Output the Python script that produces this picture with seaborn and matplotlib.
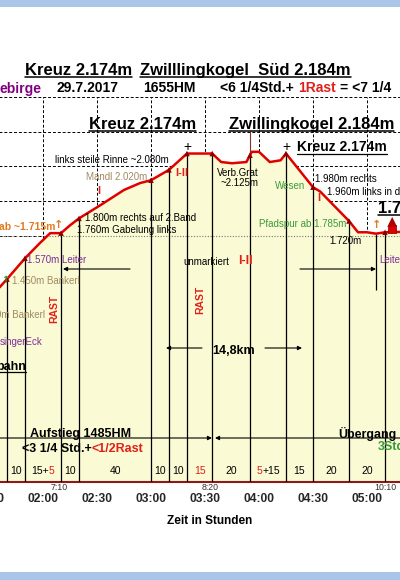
import matplotlib
matplotlib.use("Agg")
import matplotlib.pyplot as plt
from matplotlib.lines import Line2D
from matplotlib.patches import Rectangle
import numpy as np
import pandas as pd
import seaborn as sns

# ---------------- data (elapsed minutes / metres) ----------------
profile_time_min = [88, 96, 100, 110, 118, 124, 130, 135, 140, 152, 165, 174, 180,
                    190, 200, 214, 219, 225, 233, 236, 240, 246, 252, 255, 270, 274,
                    290, 295, 300, 305, 310, 318, 330]
profile_elev_m = [1330, 1404, 1450, 1570, 1655, 1715, 1715, 1760, 1800, 1877, 1964, 2004, 2020,
                  2080, 2174, 2174, 2125, 2118, 2125, 2184, 2184, 2125, 2135, 2174, 1980, 1955,
                  1785, 1720, 1720, 1712, 1720, 1722, 1722]
waypoint_time_min = [100, 110, 130, 140, 180, 190, 200, 214, 235, 255, 270, 290, 310]
short_mark_time_min = [305]
short_mark_bottom_m = [1387]
# segment durations between waypoints: (text, is_rest)
segment_labels = [[("10", 0)], [("15+", 0), ("5", 1)], [("10", 0)], [("40", 0)],
                  [("10", 0)], [("10", 0)], [("15", 1)], [("20", 0)],
                  [("5", 1), ("+15", 0)], [("15", 0)], [("20", 0)], [("20", 0)]]
clock_labels = ["7:10", "8:20", "10:10"]
clock_times = [129, 213, 310]
hut_time = [314]
hut_elev = [1740]
tick_times = list(range(60, 361, 30))
grid_elev = [1700, 1900, 2100, 2300, 2500]

# ---------------- style ----------------
sns.set_style("white")
plt.rcParams['font.family'] = ['Liberation Sans', 'DejaVu Sans']

W, H = 400, 580
fig = plt.figure(figsize=(4, 5.8), dpi=100)
fig.patch.set_facecolor('white')

T_MIN, T_MAX = 60, 360
Y_MIN, Y_MAX = 280, 2500
TOP_PX, BOT_PX = 97, 482
left_px = 43 + (T_MIN - 120) * 1.8
right_px = 43 + (T_MAX - 120) * 1.8
ax = fig.add_axes([left_px / W, 1 - BOT_PX / H, (right_px - left_px) / W, (BOT_PX - TOP_PX) / H])
ax.set_xlim(T_MIN, T_MAX)
ax.set_ylim(Y_MIN, Y_MAX)
ax.set_facecolor('white')

RED = '#E0201A'
PURPLE = '#7A2E9A'
TAN = '#A08A62'
GREEN = '#3A9A3A'
ORANGE = '#E07A1E'
YELLOW = '#FAFAD4'


def d(xp, yp):
    return (120 + (xp - 43) / 1.8, Y_MAX - (yp - TOP_PX) * (Y_MAX - Y_MIN) / (BOT_PX - TOP_PX))


# ---------------- profile ----------------
df = pd.DataFrame({'t': profile_time_min, 'h': profile_elev_m})
ax.fill_between(df['t'], df['h'], Y_MIN, color=YELLOW, lw=0, zorder=1)
sns.lineplot(data=df, x='t', y='h', ax=ax, color='#E00000', lw=1.8, zorder=5,
             sort=False, estimator=None)

wp_h = np.interp(waypoint_time_min, profile_time_min, profile_elev_m)
ax.vlines(waypoint_time_min, Y_MIN, wp_h, color='black', lw=0.9, zorder=3)
sh_h = np.interp(short_mark_time_min, profile_time_min, profile_elev_m)
ax.vlines(short_mark_time_min, short_mark_bottom_m, sh_h, color='black', lw=0.9, zorder=3)
sns.scatterplot(x=waypoint_time_min, y=wp_h, marker='^', s=16, color='#8B0000',
                edgecolor='none', zorder=6, ax=ax, legend=False)
# pointer to Zwillingkogel
ax.vlines([235], np.interp([235], profile_time_min, profile_elev_m), d(0, 131)[1],
          color='#8B3030', lw=0.8, zorder=3)
# hut
sns.scatterplot(x=hut_time, y=hut_elev, marker='s', s=40, color='#E00000', edgecolor='#800000',
                zorder=7, ax=ax, legend=False)
sns.scatterplot(x=hut_time, y=[e + 40 for e in hut_elev], marker='^', s=50, color='#B00000',
                edgecolor='none', zorder=7, ax=ax, legend=False)

# grid / axes
ax.set_xticks(tick_times)
ax.set_xticklabels([f"{t // 60:02d}:{t % 60:02d}" if 90 <= t <= 300 else "" for t in tick_times],
                   fontsize=8.7, fontweight='bold')
ax.set_yticks(grid_elev)
ax.set_yticklabels([])
ax.tick_params(axis='x', direction='out', length=3, width=0.8, color='#444444', pad=5)
ax.tick_params(axis='y', length=0)
ax.grid(True, ls=(0, (3, 2)), color='black', lw=0.7)
ax.set_axisbelow(True)
ax.axhline(grid_elev[0], color='#777777', ls=(0, (1, 1.5)), lw=0.8, zorder=2)
for s in ['top', 'left', 'right']:
    ax.spines[s].set_visible(False)
ax.spines['bottom'].set_color('#8B1A1A')
ax.spines['bottom'].set_linewidth(1.5)
ax.set_xlabel('')
ax.set_ylabel('')

# blue frame strips
fig.add_artist(Rectangle((0, 1 - 7 / H), 1, 7 / H, transform=fig.transFigure,
                         facecolor='#A9C5E9', edgecolor='none', zorder=0))
fig.add_artist(Rectangle((0, 0), 1, 8 / H, transform=fig.transFigure,
                         facecolor='#A9C5E9', edgecolor='none', zorder=0))

R = fig.canvas.get_renderer()


def ftxt(xp, yp, s, size=7, weight='normal', color='black', ha='left', rot=0, family=None):
    kw = {}
    if family:
        kw['family'] = family
    return fig.text(xp / W, 1 - yp / H, s, fontsize=size, fontweight=weight, color=color,
                    ha=ha, va='center_baseline' if rot == 0 else 'center', rotation=rot, **kw)


def mtext(xp, yp, parts, size, weight='bold', ha='left', gap=0):
    arts = [ftxt(0, yp, s, size, weight, c) for s, c in parts]
    widths = [a.get_window_extent(renderer=R).width for a in arts]
    total = sum(widths) + gap * (len(arts) - 1)
    x = xp - {'left': 0, 'center': total / 2, 'right': total}[ha]
    for a, w in zip(arts, widths):
        a.set_x(x / W)
        x += w + gap
    return arts


def underline(t, lw=1.1):
    bb = t.get_window_extent(renderer=R)
    y = (bb.y0 + 0.8) / H
    fig.add_artist(Line2D([bb.x0 / W, bb.x1 / W], [y, y], color=t.get_color(), lw=lw,
                          transform=fig.transFigure))


def arrow(x1, y1, x2, y2, style='-|>'):
    ax.annotate('', xy=d(x2, y2), xytext=d(x1, y1), xycoords='data',
                arrowprops=dict(arrowstyle=style, color='black', lw=0.8, shrinkA=0, shrinkB=0,
                                mutation_scale=6), annotation_clip=False)


# ---------------- titles ----------------
underline(ftxt(25, 69, "Kreuz 2.174m", 12, 'bold'))
underline(ftxt(140, 69, "Zwilllingkogel  Süd 2.184m", 12, 'bold'))
ftxt(0, 87, "ebirge", 10, 'bold', '#800080')
ftxt(87.5, 87, "29.7.2017", 10, 'bold', ha='center')
ftxt(169, 87, "1655HM", 10, 'bold', ha='center')
mtext(220, 87, [("<6 1/4Std.+", 'black'), ("1Rast", RED), ("= <7 1/4", 'black')], 10,
      gap=4)

# ---------------- in-plot labels ----------------
underline(ftxt(89, 122.5, "Kreuz 2.174m", 12, 'bold'))
underline(ftxt(229, 122.5, "Zwillingkogel 2.184m", 12, 'bold'))
ftxt(187, 145, "+", 10, ha='center')
ftxt(286, 145, "+", 10, ha='center')
underline(ftxt(297, 146, "Kreuz 2.174m", 10, 'bold'), lw=0.9)
ftxt(55, 159, "links steile Rinne ~2.080m", 7)
ftxt(86, 176, "Mandl 2.020m", 7, color=TAN)
ftxt(99, 190, "I", 8, 'bold', RED, ha='center')
ftxt(182, 172, "I-II", 8, 'bold', RED, ha='center')
ftxt(85, 217, "1.800m rechts auf 2.Band", 7)
ftxt(77, 229, "1.760m Gabelung links", 7)
ftxt(55, 226, "ab ~1.715m", 7.5, 'bold', ORANGE, ha='right')
ftxt(59, 224, "↑", 8, 'bold', ORANGE, ha='center', family='DejaVu Sans')
ftxt(377, 224, "↑", 8, 'bold', ORANGE, ha='center', family='DejaVu Sans')
ftxt(5, 279, "↑", 7, 'bold', GREEN, ha='center', family='DejaVu Sans')
ftxt(27, 259, "1.570m Leiter", 7, color=PURPLE)
ftxt(12, 280, "1.450m Bankerl", 7, color=TAN)
ftxt(45, 314, "0m Bankerl", 7, color=TAN, ha='right')
ftxt(42, 341, "singerEck", 7, color=PURPLE, ha='right')
underline(ftxt(26, 365, "bahn", 9, 'bold', ha='right'), lw=0.9)
ftxt(54, 309, "RAST", 7.5, 'bold', RED, rot=90, ha='center')
ftxt(200, 300, "RAST", 7.5, 'bold', RED, rot=90, ha='center')
ftxt(183, 261, "unmarkiert", 7)
ftxt(238, 259, "I-II", 9, 'bold', RED)
ftxt(217, 172, "Verb.Grat", 7)
ftxt(220, 182, "~2.125m", 7)
ftxt(275, 185, "Wesen", 7, color=GREEN)
ftxt(319, 197, "I", 8, 'bold', RED, ha='center')
ftxt(315, 178, "1.980m rechts", 7)
ftxt(327, 191, "1.960m links in di", 7)
ftxt(259, 223, "Pfadspur ab 1.785m", 7, color=GREEN)
ftxt(329, 240, "1.720m", 7)
underline(ftxt(378, 207, "1.72", 12, 'bold'))
ftxt(379, 259, "Leite", 7, color=PURPLE)
ftxt(234, 349, "14,8km", 9, 'bold', ha='center')
ftxt(30, 433, "Aufstieg 1485HM", 9, 'bold')
mtext(22, 447, [("<3 1/4 Std.+", 'black'), ("<1/2Rast", RED)], 9)
ftxt(338, 432, "Übergang", 9, 'bold')
ftxt(378, 446, "3Std", 9, 'bold', GREEN)

# arrows
arrow(130, 269, 63, 269)
arrow(300, 269, 376, 269)
arrow(202, 348, 166, 348)
arrow(265, 348, 302, 348)
arrow(-5, 438, 212, 438)
arrow(405, 438, 215, 438)

# segment durations
bounds = waypoint_time_min
ydisp = 470
for i, parts in enumerate(segment_labels):
    mid_t = (bounds[i] + bounds[i + 1]) / 2
    xp = 43 + (mid_t - 120) * 1.8
    mtext(xp, ydisp, [(s, RED if r else 'black') for s, r in parts], 7.5, weight='normal',
          ha='center')

for lab, t in zip(clock_labels, clock_times):
    ftxt(43 + (t - 120) * 1.8, 487, lab, 6.3, color='#333333', ha='center')

ftxt(210, 519, "Zeit in Stunden", 8.5, 'bold', ha='center')

fig.savefig('out.png', dpi=100)
